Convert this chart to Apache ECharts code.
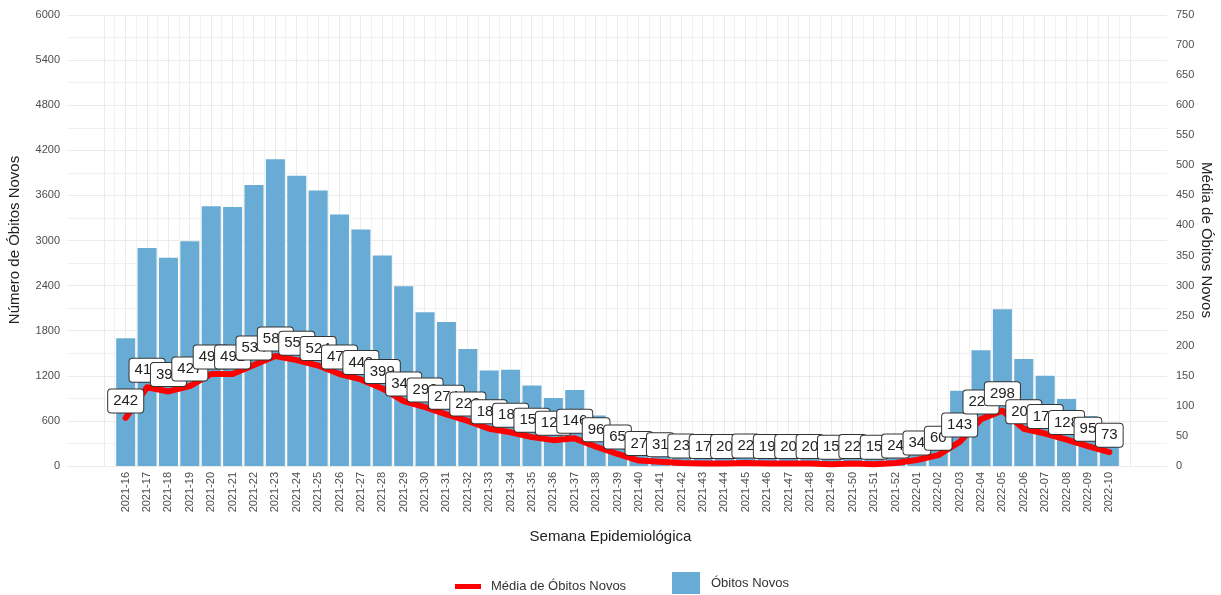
<!DOCTYPE html>
<html>
<head>
<meta charset="utf-8">
<script src="https://cdn.jsdelivr.net/npm/echarts@6/dist/echarts.min.js"></script>
<style>
html,body{margin:0;padding:0;background:#fff;}
#chart{width:1221px;height:595px;}
</style>
</head>
<body>
<div id="chart"></div>
<script>
var categories = [
  '2021-16','2021-17','2021-18','2021-19','2021-20','2021-21','2021-22','2021-23','2021-24','2021-25',
  '2021-26','2021-27','2021-28','2021-29','2021-30','2021-31','2021-32','2021-33','2021-34','2021-35',
  '2021-36','2021-37','2021-38','2021-39','2021-40','2021-41','2021-42','2021-43','2021-44','2021-45',
  '2021-46','2021-47','2021-48','2021-49','2021-50','2021-51','2021-52','2022-01','2022-02','2022-03',
  '2022-04','2022-05','2022-06','2022-07','2022-08','2022-09','2022-10'
];
var obitosNovos = [
  1700, 2900, 2770, 2990, 3455, 3445, 3740, 4080, 3860, 3665,
  3345, 3145, 2800, 2390, 2045, 1915, 1555, 1270, 1280, 1070,
  905, 1010, 672, 455, 189, 217, 161, 119, 140, 154,
  133, 140, 140, 105, 154, 105, 168, 238, 420, 1001,
  1540, 2086, 1422, 1200, 893, 665, 511
];
var mediaObitos = [
  80, 131, 124, 133, 153, 153, 168, 183, 176, 167,
  153, 144, 129, 108, 98, 86, 75, 62, 56, 48,
  43, 46, 32, 20, 9, 7, 5, 4, 4, 5,
  4, 4, 4, 3, 4, 3, 5, 10, 18, 40,
  78, 92, 62, 54, 44, 33, 23
];
var rotulos = [
  242, 414, 396, 427, 494, 491, 534, 583, 551, 524,
  478, 449, 399, 342, 292, 274, 222, 181, 183, 153,
  129, 146, 96, 65, 27, 31, 23, 17, 20, 22,
  19, 20, 20, 15, 22, 15, 24, 34, 60, 143,
  220, 298, 203, 171, 128, 95, 73
];
var leftTicks = [0, 6000, 600];
var rightTicks = [0, 750, 50];

var chart = echarts.init(document.getElementById('chart'), null, {renderer: 'canvas'});
var gridColor = '#ebebeb';
var txtColor = '#4d4d4d';
var font = 'Liberation Sans, Arial, sans-serif';
var plain = function (v) { return String(v); };

var option = {
  animation: false,
  backgroundColor: '#ffffff',
  textStyle: {fontFamily: font},
  grid: [
    {left: 67, right: 54, top: 15, bottom: 129},
    {left: 104, width: 1026, top: 15, bottom: 129},
    {left: 115, width: 1005, top: 15, bottom: 129}
  ],
  xAxis: [
    {gridIndex: 0, type: 'value', min: 0, max: 1, show: false},
    {gridIndex: 1, type: 'value', min: -1, max: 47, interval: 1,
      axisLine: {show: false}, axisTick: {show: false}, axisLabel: {show: false},
      splitLine: {show: true, lineStyle: {color: gridColor, width: 1}},
      minorTick: {show: false, splitNumber: 2},
      minorSplitLine: {show: true, lineStyle: {color: '#f1f1f1', width: 1}}},
    {gridIndex: 2, type: 'category', data: categories, boundaryGap: true,
      axisLine: {show: false}, axisTick: {show: false},
      axisLabel: {rotate: 90, interval: 0, fontSize: 11, color: txtColor, margin: 6, fontFamily: font},
      splitLine: {show: false}}
  ],
  yAxis: [
    {gridIndex: 0, type: 'value', position: 'left', min: leftTicks[0], max: leftTicks[1], interval: leftTicks[2],
      axisLine: {show: false}, axisTick: {show: false},
      axisLabel: {fontSize: 11, color: txtColor, margin: 7, fontFamily: font, formatter: plain},
      splitLine: {show: true, lineStyle: {color: gridColor, width: 1}},
      minorTick: {show: false, splitNumber: 2},
      minorSplitLine: {show: true, lineStyle: {color: '#f1f1f1', width: 1}}},
    {gridIndex: 0, type: 'value', position: 'right', min: rightTicks[0], max: rightTicks[1], interval: rightTicks[2],
      axisLine: {show: false}, axisTick: {show: false},
      axisLabel: {fontSize: 11, color: txtColor, margin: 9, fontFamily: font, formatter: plain},
      splitLine: {show: false}},
    {gridIndex: 2, type: 'value', min: leftTicks[0], max: leftTicks[1], show: false, splitLine: {show: false}},
    {gridIndex: 2, type: 'value', min: rightTicks[0], max: rightTicks[1], show: false, splitLine: {show: false}},
    {gridIndex: 1, type: 'value', min: 0, max: 1, show: false, splitLine: {show: false}}
  ],
  legend: [
    {data: ['Média de Óbitos Novos'], left: 455, top: 580, padding: 0, itemWidth: 26, itemHeight: 5, icon: 'rect',
      textStyle: {fontSize: 13, color: '#333', fontFamily: font, padding: [0, 0, 0, 5]}},
    {data: ['Óbitos Novos'], left: 672, top: 572, padding: 0, itemWidth: 28, itemHeight: 22, icon: 'rect',
      textStyle: {fontSize: 13, color: '#333', fontFamily: font, padding: [0, 0, 6, 6]}}
  ],
  series: [
    {name: 'Óbitos Novos', type: 'bar', xAxisIndex: 2, yAxisIndex: 2, data: obitosNovos,
      barCategoryGap: '11%', itemStyle: {color: '#68acd5'}, z: 2},
    {name: 'Média de Óbitos Novos', type: 'line', xAxisIndex: 2, yAxisIndex: 3, data: mediaObitos,
      symbol: 'circle', symbolSize: 1, showSymbol: true,
      itemStyle: {color: '#ff0000'},
      lineStyle: {color: '#ff0000', width: 6, cap: 'round', join: 'round'},
      label: {show: true, position: 'top', distance: 5,
        formatter: function (p) { return String(rotulos[p.dataIndex]); },
        backgroundColor: '#ffffff', borderColor: '#333333', borderWidth: 1, borderRadius: 3,
        padding: [4, 5, 4, 5], fontSize: 15, color: '#222', fontFamily: font},
      labelLayout: {hideOverlap: false},
      z: 3}
  ],
  graphic: [
    {type: 'text', left: 'center', top: 529, style: {text: 'Semana Epidemiológica', font: '15px ' + font, fill: '#222'}},
    {type: 'text', x: 7, y: 240, rotation: Math.PI / 2,
      style: {text: 'Número de Óbitos Novos', font: '15px ' + font, fill: '#222', align: 'center', verticalAlign: 'top'}},
    {type: 'text', x: 1214, y: 240, rotation: -Math.PI / 2,
      style: {text: 'Média de Óbitos Novos', font: '15px ' + font, fill: '#222', align: 'center', verticalAlign: 'top'}}
  ]
};
chart.setOption(option);
</script>
</body>
</html>
